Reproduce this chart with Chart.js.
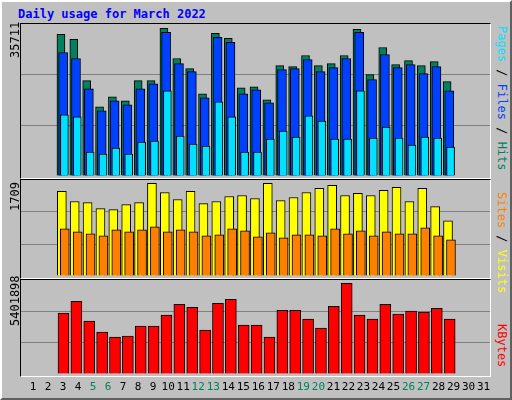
<!DOCTYPE html>
<html>
<head>
<meta charset="utf-8">
<script src="https://cdn.jsdelivr.net/npm/chart.js@4"></script>
<style>
  body { margin: 0; }
  #wrap { position: relative; width: 512px; height: 400px; background: #c0c0c0;
          box-sizing: border-box; border: 2px solid; border-color: #fff #606060 #606060 #fff;
          font-family: "DejaVu Sans Mono", monospace; }
  .panel { position: absolute; left: 18px; width: 469px; box-sizing: content-box;
           border: 1px solid; border-color: #000 #fff #fff #000; }
  .panel canvas { display: block; }
  #title { position: absolute; left: 16px; top: 5px; color: #0000ff; font-weight: bold; font-size: 12px; }
  .rl { position: absolute; font-size: 12px; white-space: nowrap; transform-origin: 0 0; }
  .left { transform: rotate(-90deg); color: #000; }
  .right { transform: rotate(90deg); }
  #days span { position: absolute; top: 378px; font-size: 11px; transform: translateX(-50%); }
</style>
</head>
<body>
<div id="wrap">
  <div id="title">Daily usage for March 2022</div>
  <div class="panel" style="top:21px;height:154px"><canvas id="c1" width="469" height="154"></canvas></div>
  <div class="panel" style="top:177px;height:98px"><canvas id="c2" width="469" height="98"></canvas></div>
  <div class="panel" style="top:277px;height:96px"><canvas id="c3" width="469" height="96"></canvas></div>
  <div class="rl left" style="left:6px;top:56px">35711</div>
  <div class="rl left" style="left:6px;top:209px">1709</div>
  <div class="rl left" style="left:6px;top:324px">5401898</div>
  <div class="rl right" style="left:507px;top:24px"><span style="color:#00e0ff">Pages</span> / <span style="color:#0040ff">Files</span> / <span style="color:#00805c">Hits</span></div>
  <div class="rl right" style="left:507px;top:190px"><span style="color:#ff8000">Sites</span> / <span style="color:#ffff00">Visits</span></div>
  <div class="rl right" style="left:507px;top:322px"><span style="color:#ff0000">KBytes</span></div>
  <div id="days"></div>
</div>
<script>
const days = Array.from({length: 31}, (_, i) => i + 1);
const weekend = [5, 6, 12, 13, 19, 20, 26, 27];

const hits = [34250,33030,23050,16720,19150,18180,23050,23050,35711,28410,25970,19880,34490,33280,21350,21590,18420,26700,26460,29140,26700,27190,29140,35470,24510,31080,26950,27920,26700,27680,22810];
const files = [29870,28410,21100,15750,18180,17210,21100,22320,34740,27190,25240,18910,33520,32300,19880,20860,17690,25730,25970,28160,25240,26210,28410,34740,23290,29380,26210,26950,24750,26460,20610];
const pages = [14770,14280,5760,5280,6740,5280,8200,8440,20610,9660,7710,7220,17940,14280,5760,5760,8930,10880,9410,14530,13310,8930,8930,20610,9170,11850,9170,7470,9410,9170,6980];
const visits = [1560,1374,1355,1243,1224,1318,1355,1709,1541,1411,1560,1336,1374,1467,1485,1429,1709,1392,1448,1541,1616,1672,1485,1523,1485,1579,1635,1374,1616,1280,1019];
const sites = [870,814,777,740,851,814,851,907,814,851,814,740,758,870,833,721,796,702,758,758,740,870,777,833,740,814,777,777,889,740,665];
const kbytes = [3621000,4333000,3146000,2493000,2196000,2256000,2849000,2849000,3502000,4155000,3977000,2612000,4215000,4452000,2909000,2909000,2196000,3799000,3799000,3265000,2731000,4037000,5401898,3502000,3265000,4155000,3562000,3740000,3680000,3918000,3265000];

const slot = 15.02;

function ds(values, off, color, width, order) {
  return {
    data: values.map((v, i) => ({x: days[i] + off, y: v})),
    backgroundColor: color, borderColor: '#000', borderWidth: 1,
    borderSkipped: 'bottom', barThickness: width, grouped: false, order: order
  };
}

function make(id, datasets, ymax) {
  new Chart(document.getElementById(id), {
    type: 'bar',
    data: { datasets: datasets },
    options: {
      responsive: false, animation: false,
      layout: { padding: { bottom: 2 } },
      plugins: { legend: { display: false }, tooltip: { enabled: false } },
      scales: {
        x: { type: 'linear', min: 0.5, max: 31.73, display: false },
        y: {
          min: 0, max: ymax, display: true,
          afterBuildTicks: ax => { ax.ticks = [0, 1, 2, 3].map(k => ({value: ymax * k / 3})); },
          afterFit: ax => { ax.width = 0; },
          ticks: { display: false },
          border: { display: false },
          grid: { drawTicks: false, color: c => (c.index === 1 || c.index === 2) ? '#808080' : 'rgba(0,0,0,0)' }
        }
      }
    }
  });
}

make('c1', [ds(hits, 0, '#00805c', 8, 3), ds(files, 0.17, '#0040ff', 9, 2), ds(pages, 0.27, '#00e0ff', 8, 1)], 36760);
make('c2', [ds(visits, 0.07, '#ffff00', 9, 2), ds(sites, 0.3, '#ff8000', 9, 1)], 1771);
make('c3', [ds(kbytes, 0.2, '#ff0000', 11, 1)], 5597800);

const dayBox = document.getElementById('days');
days.forEach(d => {
  const s = document.createElement('span');
  s.textContent = d;
  s.style.left = (19 + (d + 0.3 - 0.5) * slot) + 'px';
  s.style.color = weekend.includes(d) ? '#00805c' : '#000';
  dayBox.appendChild(s);
});
</script>
</body>
</html>
